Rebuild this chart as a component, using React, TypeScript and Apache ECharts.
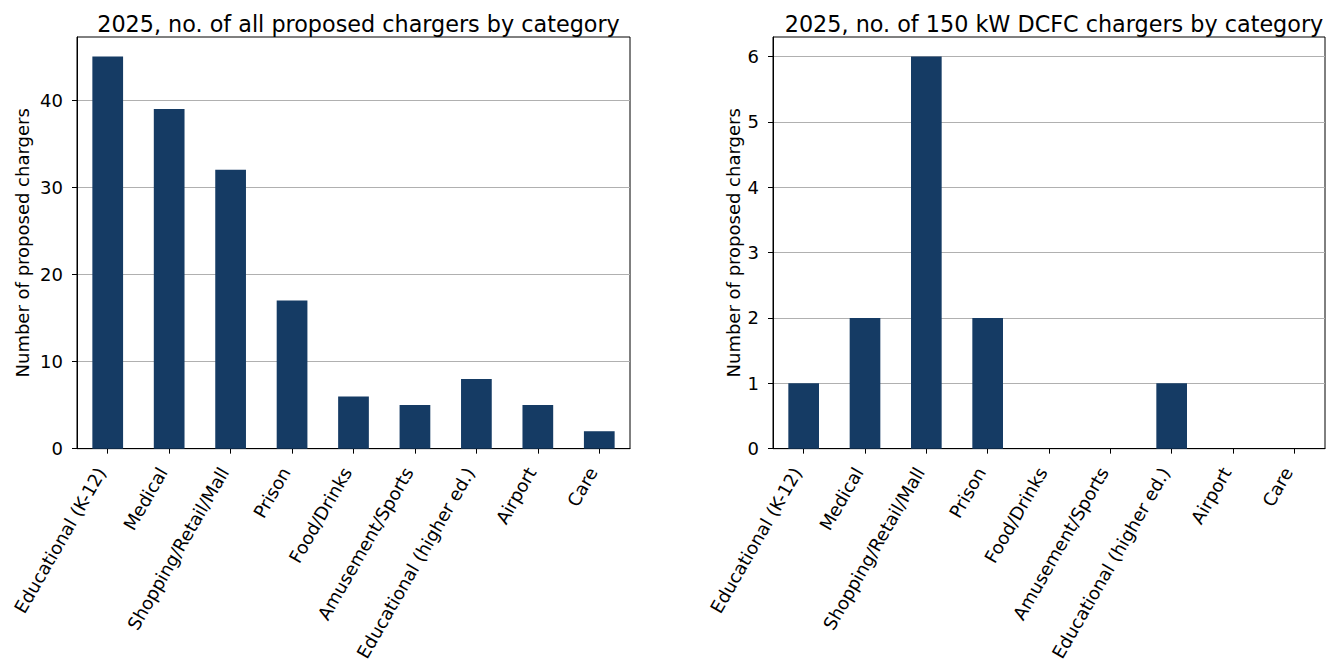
import React, { useEffect, useRef } from "react";
import * as echarts from "echarts";

const categories = [
  "Educational (K-12)",
  "Medical",
  "Shopping/Retail/Mall",
  "Prison",
  "Food/Drinks",
  "Amusement/Sports",
  "Educational (higher ed.)",
  "Airport",
  "Care",
];
const allChargers = [45, 39, 32, 17, 6, 5, 8, 5, 2];
const dcfcChargers = [1, 2, 6, 2, 0, 0, 1, 0, 0];
const leftTicks = [0, 10, 20, 30, 40];
const rightTicks = [0, 1, 2, 3, 4, 5, 6];

const titles = [
  "2025, no. of all proposed chargers by category",
  "2025, no. of 150 kW DCFC chargers by category",
];
const yName = "Number of proposed chargers";

const BAR = "#153b64";
const FONT = "DejaVu Sans";
const LABEL_SIZE = 18;
const TITLE_SIZE = 22.3;

export default function App() {
  const ref = useRef<HTMLDivElement>(null);
  useEffect(() => {
    document.body.style.margin = "0";
    const chart = echarts.init(ref.current!, undefined, { renderer: "svg" });
    const grids = [
      { left: 77, top: 37, width: 553, height: 413 },
      { left: 773, top: 37, width: 552, height: 413 },
    ];
    const maxes = [Math.max(...allChargers) * 1.05, Math.max(...dcfcChargers) * 1.05];
    const ticks = [leftTicks, rightTicks];
    const data = [allChargers, dcfcChargers];
    const nameGaps = [46, 31];
    chart.setOption({
      animation: false,
      title: grids.map((g, i) => ({
        text: titles[i],
        left: g.left + g.width / 2,
        textAlign: "center",
        top: 8,
        textStyle: { fontFamily: FONT, fontSize: TITLE_SIZE, fontWeight: "normal", color: "#000" },
      })),
      grid: grids.map((g) => ({
        ...g,
        show: true,
        borderColor: "#000",
        borderWidth: 1,
        backgroundColor: "transparent",
      })),
      xAxis: grids.map((_, i) => ({
        type: "category",
        gridIndex: i,
        data: categories,
        boundaryGap: true,
        axisLine: { show: true, lineStyle: { color: "#000", width: 1 } },
        axisTick: { show: true, alignWithLabel: true, length: 5, lineStyle: { color: "#000" } },
        axisLabel: {
          rotate: 60,
          interval: 0,
          margin: 9,
          padding: [0, 13, 0, 0],
          fontFamily: FONT,
          fontSize: LABEL_SIZE,
          color: "#000",
        },
        splitLine: { show: false },
      })),
      yAxis: grids.map((_, i) => ({
        type: "value",
        gridIndex: i,
        min: 0,
        max: maxes[i],
        interval: i === 0 ? 10 : 1,
        name: yName,
        nameLocation: "middle",
        nameGap: nameGaps[i],
        nameTextStyle: { fontFamily: FONT, fontSize: LABEL_SIZE, color: "#000" },
        axisLine: { show: true, lineStyle: { color: "#000", width: 1 } },
        axisTick: {
          show: true,
          length: 5,
          lineStyle: { color: "#000" },
          customValues: ticks[i],
        },
        axisLabel: {
          fontFamily: FONT,
          fontSize: LABEL_SIZE,
          color: "#000",
          margin: 14,
          customValues: ticks[i],
        },
        splitLine: { show: true, lineStyle: { color: "#b0b0b0", width: 1 } },
      })),
      series: data.map((d, i) => ({
        type: "bar",
        xAxisIndex: i,
        yAxisIndex: i,
        data: d,
        barWidth: "50%",
        itemStyle: { color: BAR },
      })),
    });
    return () => chart.dispose();
  }, []);
  return <div ref={ref} style={{ width: 1326, height: 664 }} />;
}
